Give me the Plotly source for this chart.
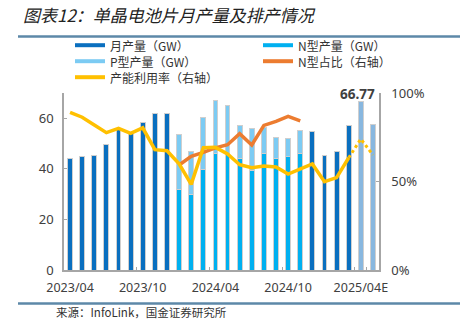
import plotly.graph_objects as go

# ---------------- data ----------------
months = ["2023/04", "2023/05", "2023/06", "2023/07", "2023/08", "2023/09",
          "2023/10", "2023/11", "2023/12", "2024/01", "2024/02", "2024/03",
          "2024/04", "2024/05", "2024/06", "2024/07", "2024/08", "2024/09",
          "2024/10", "2024/11", "2024/12", "2025/01", "2025/02", "2025/03",
          "2025/04E", "2025/05E"]
tick_labels = ["2023/04", "2023/10", "2024/04", "2024/10", "2025/04E"]
right_ticks = [0, 50, 100]
right_tick_text = ["0%", "50%", "100%"]

monthly = [44.1, 45.0, 45.4, 49.8, 55.5, 54.2, 58.2, 61.9, 61.8,
           None, None, None, None, None, None, None, None, None, None, None,
           54.9, 45.4, 47.0, 57.0, 66.77, 57.5]
n_type = [None] * 9 + [31.7, 30.0, 39.7, 46.1, 46.0, 44.0, 39.4, 46.1, 44.0, 45.0, 46.1] + [None] * 6
p_type = [None] * 9 + [21.7, 16.7, 20.8, 21.1, 18.9, 13.0, 16.4, 10.4, 8.6, 6.9, 8.9] + [None] * 6
n_share = [None] * 9 + [59.3, 64.2, 66.5, 69.0, 70.8, 77.0, 70.6, 81.7, 84.0, 86.8, 84.3] + [None] * 6
util = [89.1, 86.3, 81.9, 77.6, 80.0, 77.2, 80.3, 68.0, 67.4, 60.0, 48.4, 69.1,
        69.3, 65.6, 59.5, 57.8, 58.8, 58.2, 54.2, 57.2, 59.9, 49.9, 52.2, 63.4,
        None, None]
util_fcst = [None] * 23 + [63.4, 74.0, 65.0]

label_index = 24  # bar carrying the value label

# ---------------- styles ----------------
C_MONTH = "#0a6fbf"
C_FCST = "#88b7df"
C_N = "#00b0f0"
C_P = "#7ccbf3"
C_SHARE = "#ec7c30"
C_UTIL = "#ffc000"
EDGE = "#cfcfcf"
CJK = "Noto Sans CJK SC"

L, R, T, B = 64, 81, 93, 63
W, H = 460, 333
PW, PH = W - L - R, H - T - B


def px(x):
    return (x - L) / PW


def py(y):
    return (H - B - y) / PH


month_colors = [C_FCST if m.endswith("E") else C_MONTH for m in months]

fig = go.Figure()
fig.add_trace(go.Bar(x=months, y=monthly, name="月产量（GW）",
                     marker=dict(color=month_colors, line=dict(color=EDGE, width=1)),
                     showlegend=False))
fig.add_trace(go.Bar(x=months, y=n_type, name="N型产量（GW）",
                     marker=dict(color=C_N, line=dict(color=EDGE, width=1)),
                     showlegend=False))
fig.add_trace(go.Bar(x=months, y=p_type, name="P型产量（GW）",
                     marker=dict(color=C_P, line=dict(color=EDGE, width=1)),
                     showlegend=False))
fig.add_trace(go.Scatter(x=months, y=n_share, name="N型占比（右轴）", yaxis="y2",
                         mode="lines", line=dict(color=C_SHARE, width=3.5),
                         showlegend=False))
fig.add_trace(go.Scatter(x=months, y=util, name="产能利用率（右轴）", yaxis="y2",
                         mode="lines", line=dict(color=C_UTIL, width=3.5),
                         showlegend=False))
fig.add_trace(go.Scatter(x=months, y=util_fcst, name="产能利用率（预测）", yaxis="y2",
                         mode="lines", line=dict(color=C_UTIL, width=3, dash="dot"),
                         showlegend=False))

axis_color = "#a6a6a6"
tick_font = dict(family="Noto Sans", size=13, color="#404040")

fig.update_layout(
    width=W, height=H,
    margin=dict(l=L, r=R, t=T, b=B),
    paper_bgcolor="white", plot_bgcolor="white",
    barmode="stack", bargap=0.6,
    showlegend=False,
    xaxis=dict(type="category", categoryorder="array", categoryarray=months,
               tickmode="array", tickvals=tick_labels, ticktext=tick_labels,
               tickangle=0, ticklabelstandoff=5,
               tickson="boundaries", ticks="inside", ticklen=3, tickcolor=axis_color,
               showline=True, linecolor=axis_color, linewidth=1.5,
               showgrid=False, zeroline=False,
               tickfont=dict(family="Noto Sans", size=12.5, color="#404040")),
    yaxis=dict(range=[0, 70], tickvals=[0, 20, 40, 60],
               ticks="inside", ticklen=3, tickcolor=axis_color,
               showline=True, linecolor=axis_color, linewidth=1.5,
               showgrid=False, zeroline=False, ticklabelstandoff=6,
               tickfont=tick_font),
    yaxis2=dict(range=[0, 100], tickmode="array", tickvals=right_ticks,
                ticktext=right_tick_text,
                overlaying="y", side="right",
                ticks="inside", ticklen=3, tickcolor=axis_color,
                showline=True, linecolor=axis_color, linewidth=1.5,
                showgrid=False, zeroline=False, ticklabelstandoff=8,
                tickfont=tick_font),
)

# value label on the forecast bar
fig.add_annotation(x=months[label_index], y=monthly[label_index],
                   text=f"<b>{monthly[label_index]:.2f}</b>", showarrow=False,
                   xanchor="center", yanchor="bottom", xshift=-3, yshift=-4,
                   font=dict(family="Noto Sans", size=13.5, color="#404040"))

# title, rules and source
fig.add_annotation(xref="paper", yref="paper", x=px(21), y=py(14),
                   text="<i>图表12：单晶电池片月产量及排产情况</i>", showarrow=False,
                   xanchor="left", yanchor="middle",
                   font=dict(family=CJK, size=17, color="#222222"))
fig.add_annotation(xref="paper", yref="paper", x=px(54), y=py(312),
                   text="来源：InfoLink，国金证券研究所", showarrow=False,
                   xanchor="left", yanchor="middle",
                   font=dict(family=CJK, size=11.5, color="#333333"))
for yy in (36.5, 303.5):
    fig.add_shape(type="line", xref="paper", yref="paper",
                  x0=px(18), x1=px(460), y0=py(yy), y1=py(yy),
                  line=dict(color="#5d88a8", width=2.5))

# manual legend (two columns)
legend_items = [
    ("月产量（GW）", C_MONTH, 75, 45.2),
    ("P型产量（GW）", C_P, 75, 61.2),
    ("产能利用率（右轴）", C_UTIL, 75, 77.2),
    ("N型产量（GW）", C_N, 263, 45.2),
    ("N型占比（右轴）", C_SHARE, 263, 61.2),
]
for label, color, x0, y0 in legend_items:
    fig.add_shape(type="line", xref="paper", yref="paper",
                  x0=px(x0), x1=px(x0 + 30), y0=py(y0), y1=py(y0),
                  line=dict(color=color, width=4))
    fig.add_annotation(xref="paper", yref="paper", x=px(x0 + 34), y=py(y0),
                       text=label, showarrow=False, xanchor="left", yanchor="middle",
                       borderpad=0,
                       font=dict(family=CJK, size=12, color="#333333"))

fig.write_html("out.html")
